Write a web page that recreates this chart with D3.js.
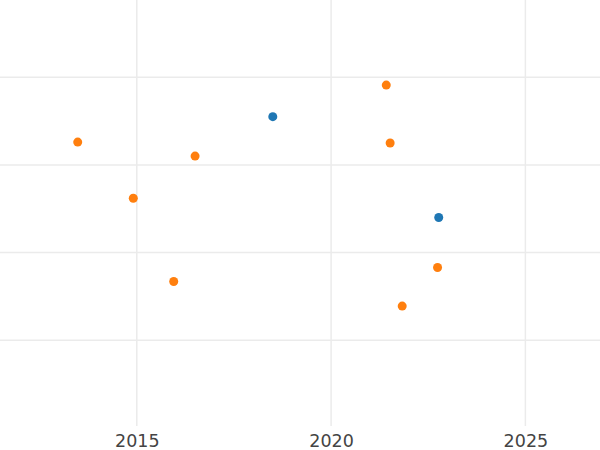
<!DOCTYPE html>
<html><head><meta charset="utf-8">
<script src="https://cdn.jsdelivr.net/npm/d3@7"></script>
<style>html,body{margin:0;padding:0;background:#fff;}svg{display:block;}</style>
</head><body>
<svg id="chart" width="600" height="450"></svg>
<script>
const orangeX = [2013.48, 2014.91, 2016.50, 2015.95, 2021.42, 2021.52, 2022.74, 2021.83];
const orangeY = [3.26, 2.62, 3.10, 1.67, 3.91, 3.25, 1.83, 1.39];
const blueX = [2018.50, 2022.77];
const blueY = [3.55, 2.40];
const xTicks = [2015, 2020, 2025];
const yTicks = [1, 2, 3, 4];
const colors = {orange: "#ff7f0e", blue: "#1f77b4"};

const svg = d3.select("#chart");
const W = 600, plotBottom = 426;
const x = d3.scaleLinear().domain([2011.48, 2026.92]).range([0, W]);
const y = d3.scaleLinear().domain([0, 4.88]).range([428, 0]);

// grid
svg.append("g").selectAll("line").data(yTicks).join("line")
  .attr("x1", 0).attr("x2", W)
  .attr("y1", d => y(d)).attr("y2", d => y(d))
  .attr("stroke", "#ebebeb").attr("stroke-width", 1.5);
svg.append("g").selectAll("line").data(xTicks).join("line")
  .attr("x1", d => x(d)).attr("x2", d => x(d))
  .attr("y1", 0).attr("y2", plotBottom)
  .attr("stroke", "#ebebeb").attr("stroke-width", 1.5);

// x axis labels
const xAxis = d3.axisBottom(x).tickValues(xTicks).tickFormat(d3.format("d")).tickSize(0).tickPadding(0);
const ax = svg.append("g").attr("transform", `translate(0,${plotBottom})`).call(xAxis);
ax.select(".domain").remove();
ax.selectAll("text").attr("font-family", "DejaVu Sans").attr("font-size", 17.5)
  .attr("fill", "#444").attr("dy", null).attr("y", 21);

// points
const orange = orangeX.map((v, i) => ({x: v, y: orangeY[i]}));
const blue = blueX.map((v, i) => ({x: v, y: blueY[i]}));
svg.append("g").selectAll("circle").data(orange).join("circle")
  .attr("cx", d => x(d.x)).attr("cy", d => y(d.y)).attr("r", 4.5).attr("fill", colors.orange);
svg.append("g").selectAll("circle").data(blue).join("circle")
  .attr("cx", d => x(d.x)).attr("cy", d => y(d.y)).attr("r", 4.5).attr("fill", colors.blue);
</script>
</body></html>
